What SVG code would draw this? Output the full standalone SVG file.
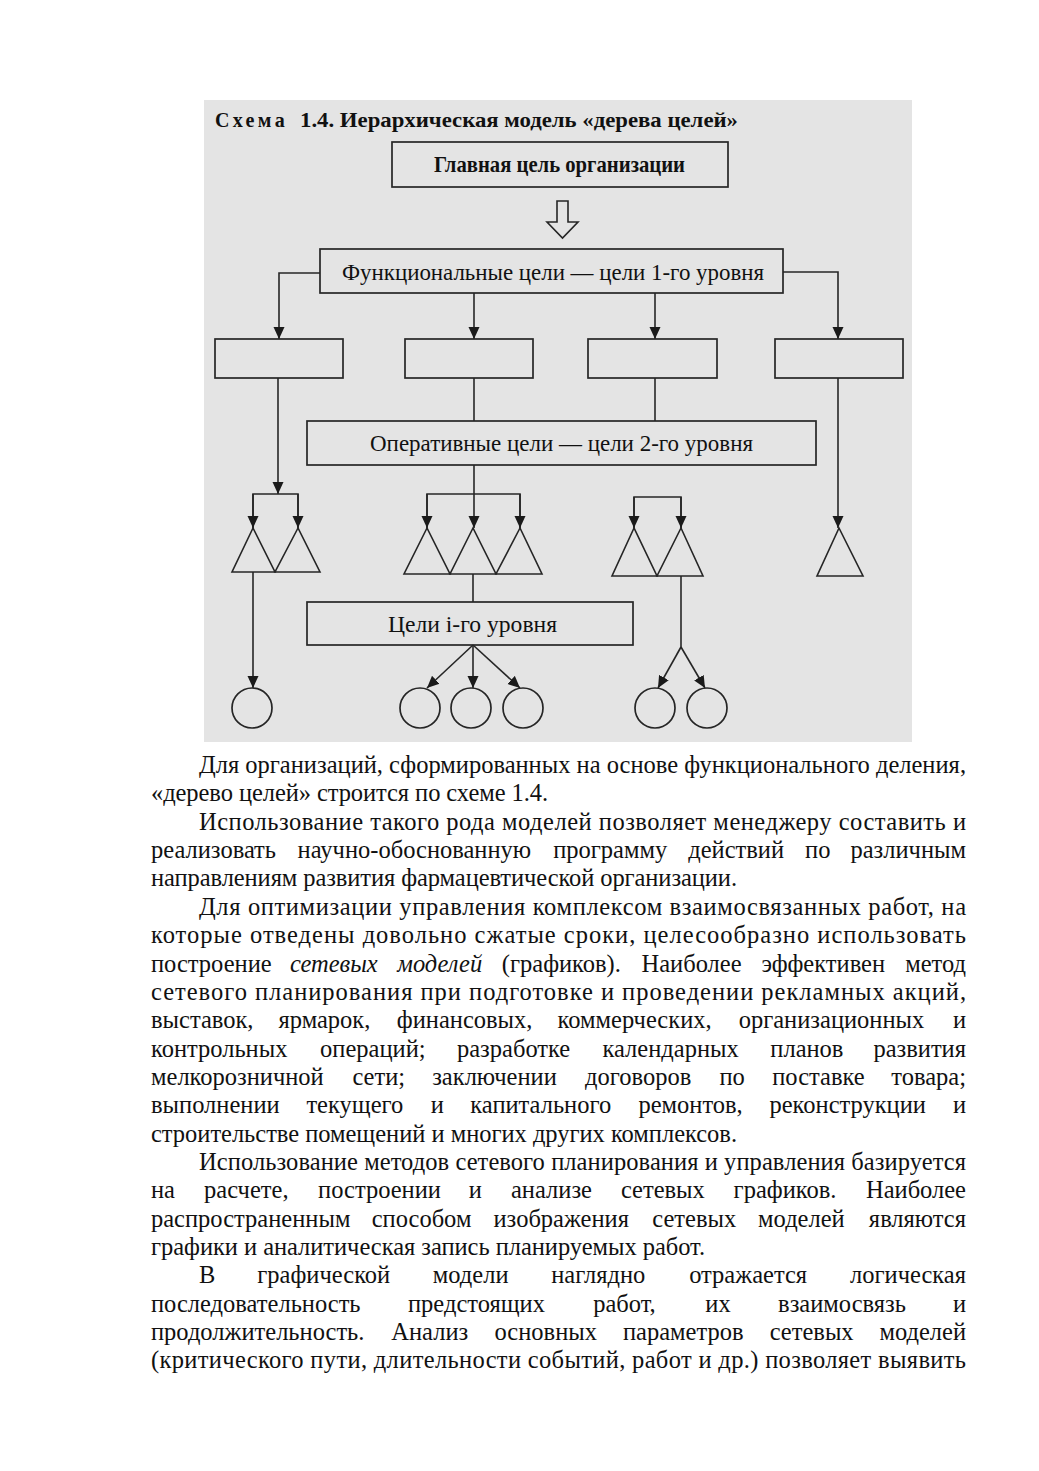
<svg xmlns="http://www.w3.org/2000/svg" width="1039" height="1471" viewBox="0 0 1039 1471">
<style>
.bg{fill:#ffffff}
.scan{fill:#e4e4e4}
.box{fill:none;stroke:#262626;stroke-width:1.7}
.ln{fill:none;stroke:#262626;stroke-width:1.6}
.tri{fill:none;stroke:#262626;stroke-width:1.6;stroke-linejoin:miter}
.circ{fill:none;stroke:#262626;stroke-width:1.7}
.title{font-family:"Liberation Serif","Times New Roman",serif;font-weight:bold;font-size:21px;fill:#111111}
.lbl{font-family:"Liberation Serif","Times New Roman",serif;font-size:24px;fill:#111111}
.lblb{font-family:"Liberation Serif","Times New Roman",serif;font-weight:bold;font-size:23px;fill:#111111}
.body{font-family:"Liberation Serif","Times New Roman",serif;font-size:24.5px;fill:#111111}
.it{font-style:italic}
</style>
<defs>
<marker id="ah" markerUnits="userSpaceOnUse" markerWidth="12" markerHeight="12" viewBox="0 0 12 12" refX="12" refY="6" orient="auto">
<path d="M0,0.5 L12,6 L0,11.5 z" fill="#1a1a1a"/>
</marker>
</defs>
<rect class="bg" x="0" y="0" width="1039" height="1471"/>
<rect class="scan" x="204" y="100" width="708" height="642"/>

<text class="title" x="215" y="127" letter-spacing="3.5" textLength="73" lengthAdjust="spacingAndGlyphs">Схема</text>
<text class="title" x="300" y="127" textLength="438" lengthAdjust="spacingAndGlyphs">1.4. Иерархическая модель «дерева целей»</text>

<g id="connectors">
<polygon class="ln" points="557,201 568,201 568,222 578,222 562.5,238 547,222 557,222"/>
<polyline class="ln" points="320,273 279,273 279,339" marker-end="url(#ah)"/>
<line class="ln" x1="474" y1="293" x2="474" y2="339" marker-end="url(#ah)"/>
<line class="ln" x1="655" y1="293" x2="655" y2="339" marker-end="url(#ah)"/>
<polyline class="ln" points="783,272 838,272 838,339" marker-end="url(#ah)"/>
<line class="ln" x1="278" y1="378" x2="278" y2="494" marker-end="url(#ah)"/>
<polyline class="ln" points="253,528 253,494 298,494 298,528"/>
<line class="ln" x1="253" y1="494" x2="253" y2="528" marker-end="url(#ah)"/>
<line class="ln" x1="298" y1="494" x2="298" y2="528" marker-end="url(#ah)"/>
<line class="ln" x1="474" y1="378" x2="474" y2="421"/>
<line class="ln" x1="655" y1="378" x2="655" y2="421"/>
<line class="ln" x1="474" y1="465" x2="474" y2="494"/>
<polyline class="ln" points="427,528 427,494 520,494 520,528"/>
<line class="ln" x1="427" y1="494" x2="427" y2="528" marker-end="url(#ah)"/>
<line class="ln" x1="474" y1="494" x2="474" y2="528" marker-end="url(#ah)"/>
<line class="ln" x1="520" y1="494" x2="520" y2="528" marker-end="url(#ah)"/>
<polyline class="ln" points="634,528 634,497 681,497 681,528"/>
<line class="ln" x1="634" y1="497" x2="634" y2="528" marker-end="url(#ah)"/>
<line class="ln" x1="681" y1="497" x2="681" y2="528" marker-end="url(#ah)"/>
<line class="ln" x1="838" y1="378" x2="838" y2="528" marker-end="url(#ah)"/>
<line class="ln" x1="253" y1="572" x2="253" y2="688" marker-end="url(#ah)"/>
<line class="ln" x1="473" y1="574" x2="473" y2="602"/>
<line class="ln" x1="473" y1="645" x2="427" y2="688" marker-end="url(#ah)"/>
<line class="ln" x1="473" y1="645" x2="473" y2="688" marker-end="url(#ah)"/>
<line class="ln" x1="473" y1="645" x2="520" y2="688" marker-end="url(#ah)"/>
<line class="ln" x1="681" y1="576" x2="681" y2="647"/>
<line class="ln" x1="681" y1="647" x2="658" y2="688" marker-end="url(#ah)"/>
<line class="ln" x1="681" y1="647" x2="705" y2="688" marker-end="url(#ah)"/>
</g>

<g id="main-goal">
<rect class="box" x="392" y="142" width="336" height="45"/>
<text class="lblb" x="434" y="172" textLength="251" lengthAdjust="spacingAndGlyphs">Главная цель организации</text>
</g>
<g id="functional-goals">
<rect class="box" x="320" y="249" width="463" height="44"/>
<text class="lbl" x="342" y="280" textLength="422" lengthAdjust="spacingAndGlyphs">Функциональные цели — цели 1-го уровня</text>
</g>
<g id="func-box-1"><rect class="box" x="215" y="339" width="128" height="39"/></g>
<g id="func-box-2"><rect class="box" x="405" y="339" width="128" height="39"/></g>
<g id="func-box-3"><rect class="box" x="588" y="339" width="129" height="39"/></g>
<g id="func-box-4"><rect class="box" x="775" y="339" width="128" height="39"/></g>
<g id="operative-goals">
<rect class="box" x="307" y="421" width="509" height="44"/>
<text class="lbl" x="370" y="451" textLength="383" lengthAdjust="spacingAndGlyphs">Оперативные цели — цели 2-го уровня</text>
</g>
<g id="triangles-1">
<polygon class="tri" points="253,528 232,572 275,572"/>
<polygon class="tri" points="298,528 275,572 320,572"/>
</g>
<g id="triangles-2">
<polygon class="tri" points="427,528 404,574 450,574"/>
<polygon class="tri" points="473,528 450,574 496,574"/>
<polygon class="tri" points="520,528 496,574 542,574"/>
</g>
<g id="triangles-3">
<polygon class="tri" points="634,528 612,576 657,576"/>
<polygon class="tri" points="681,528 657,576 703,576"/>
</g>
<g id="triangles-4">
<polygon class="tri" points="839,528 817,576 863,576"/>
</g>
<g id="i-level-goals">
<rect class="box" x="307" y="602" width="326" height="43"/>
<text class="lbl" x="388" y="632" textLength="169" lengthAdjust="spacingAndGlyphs">Цели i-го уровня</text>
</g>
<g id="leaves">
<circle class="circ" cx="252" cy="708" r="20"/>
<circle class="circ" cx="420" cy="708" r="20"/>
<circle class="circ" cx="471" cy="708" r="20"/>
<circle class="circ" cx="523" cy="708" r="20"/>
<circle class="circ" cx="655" cy="708" r="20"/>
<circle class="circ" cx="707" cy="708" r="20"/>
</g>

<g id="body-text">
<text class="body" x="199" y="773" textLength="767" lengthAdjust="spacing">Для организаций, сформированных на основе функционального деления,</text>
<text class="body" x="151" y="801.4" textLength="397" lengthAdjust="spacing">«дерево целей» строится по схеме 1.4.</text>
<text class="body" x="199" y="829.7" textLength="767" lengthAdjust="spacing">Использование такого рода моделей позволяет менеджеру составить и</text>
<text class="body" y="858.1"><tspan x="151">реализовать</tspan><tspan x="297.6">научно-обоснованную</tspan><tspan x="553.2">программу</tspan><tspan x="688.2">действий</tspan><tspan x="805.1">по</tspan></text>
<text class="body" x="966" y="858.1" text-anchor="end">различным</text>
<text class="body" x="151" y="886.4" textLength="586" lengthAdjust="spacing">направлениям развития фармацевтической организации.</text>
<text class="body" x="199" y="914.8" textLength="767" lengthAdjust="spacing">Для оптимизации управления комплексом взаимосвязанных работ, на</text>
<text class="body" x="151" y="943.1" textLength="815" lengthAdjust="spacing">которые отведены довольно сжатые сроки, целесообразно использовать</text>
<text class="body" y="971.5"><tspan x="151">построение</tspan><tspan class="it" x="289.9">сетевых</tspan><tspan class="it" x="397.3">моделей</tspan><tspan x="501.8">(графиков).</tspan><tspan x="641.5">Наиболее</tspan><tspan x="761.4">эффективен</tspan></text>
<text class="body" x="966" y="971.5" text-anchor="end">метод</text>
<text class="body" x="151" y="999.8" textLength="815" lengthAdjust="spacing">сетевого планирования при подготовке и проведении рекламных акций,</text>
<text class="body" y="1028.2"><tspan x="151">выставок,</tspan><tspan x="278.5">ярмарок,</tspan><tspan x="396.8">финансовых,</tspan><tspan x="557.6">коммерческих,</tspan><tspan x="738.7">организационных</tspan></text>
<text class="body" x="966" y="1028.2" text-anchor="end">и</text>
<text class="body" y="1056.5"><tspan x="151">контрольных</tspan><tspan x="320.1">операций;</tspan><tspan x="457">разработке</tspan><tspan x="602.5">календарных</tspan><tspan x="770.3">планов</tspan></text>
<text class="body" x="966" y="1056.5" text-anchor="end">развития</text>
<text class="body" y="1084.9"><tspan x="151">мелкорозничной</tspan><tspan x="352.4">сети;</tspan><tspan x="432.2">заключении</tspan><tspan x="585.1">договоров</tspan><tspan x="719.4">по</tspan><tspan x="772.2">поставке</tspan></text>
<text class="body" x="966" y="1084.9" text-anchor="end">товара;</text>
<text class="body" y="1113.2"><tspan x="151">выполнении</tspan><tspan x="306.4">текущего</tspan><tspan x="430.7">и</tspan><tspan x="470.3">капитального</tspan><tspan x="638.4">ремонтов,</tspan><tspan x="769.5">реконструкции</tspan></text>
<text class="body" x="966" y="1113.2" text-anchor="end">и</text>
<text class="body" x="151" y="1141.6" textLength="586" lengthAdjust="spacing">строительстве помещений и многих других комплексов.</text>
<text class="body" x="199" y="1169.9" textLength="767" lengthAdjust="spacing">Использование методов сетевого планирования и управления базируется</text>
<text class="body" y="1198.3"><tspan x="151">на</tspan><tspan x="204.1">расчете,</tspan><tspan x="318.1">построении</tspan><tspan x="468.8">и</tspan><tspan x="511">анализе</tspan><tspan x="620.9">сетевых</tspan><tspan x="733.6">графиков.</tspan></text>
<text class="body" x="966" y="1198.3" text-anchor="end">Наиболее</text>
<text class="body" y="1226.6"><tspan x="151">распространенным</tspan><tspan x="371.7">способом</tspan><tspan x="493.5">изображения</tspan><tspan x="652.3">сетевых</tspan><tspan x="758.1">моделей</tspan></text>
<text class="body" x="966" y="1226.6" text-anchor="end">являются</text>
<text class="body" x="151" y="1255" textLength="554" lengthAdjust="spacing">графики и аналитическая запись планируемых работ.</text>
<text class="body" y="1283.3"><tspan x="199">В</tspan><tspan x="257.3">графической</tspan><tspan x="432.8">модели</tspan><tspan x="551.2">наглядно</tspan><tspan x="689.2">отражается</tspan></text>
<text class="body" x="966" y="1283.3" text-anchor="end">логическая</text>
<text class="body" y="1311.7"><tspan x="151">последовательность</tspan><tspan x="408">предстоящих</tspan><tspan x="593.2">работ,</tspan><tspan x="705.3">их</tspan><tspan x="778.1">взаимосвязь</tspan></text>
<text class="body" x="966" y="1311.7" text-anchor="end">и</text>
<text class="body" y="1340"><tspan x="151">продолжительность.</tspan><tspan x="391.3">Анализ</tspan><tspan x="494.5">основных</tspan><tspan x="622.9">параметров</tspan><tspan x="769.7">сетевых</tspan></text>
<text class="body" x="966" y="1340" text-anchor="end">моделей</text>
<text class="body" x="151" y="1368.4" textLength="815" lengthAdjust="spacing">(критического пути, длительности событий, работ и др.) позволяет выявить</text>
</g>
</svg>
